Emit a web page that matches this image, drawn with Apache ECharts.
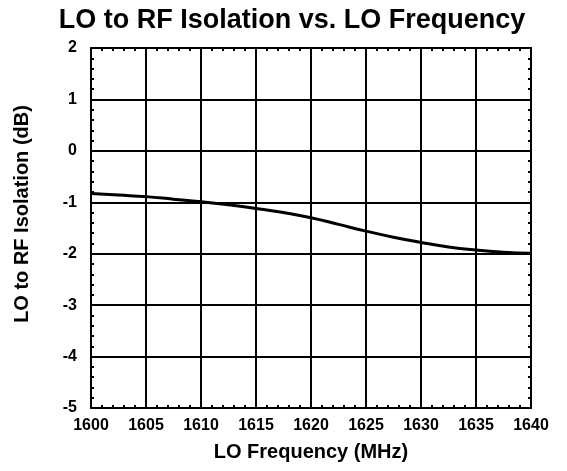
<!DOCTYPE html>
<html>
<head>
<meta charset="utf-8">
<script src="https://cdn.jsdelivr.net/npm/echarts@6/dist/echarts.min.js"></script>
<style>
  html, body { margin: 0; padding: 0; background: #fff; }
  #chart { width: 567px; height: 471px; }
</style>
</head>
<body>
<div id="chart"></div>
<script>
// LO frequency (MHz) and isolation (dB)
const freq = [1600, 1602.5, 1605, 1607.5, 1610, 1612.5, 1615, 1617.5, 1620,
  1622.5, 1625, 1627.5, 1630, 1632.5, 1635, 1637.5, 1640]
const isolation = [-0.83, -0.86, -0.89, -0.94, -0.99, -1.05, -1.12, -1.20, -1.30,
  -1.43, -1.56, -1.68, -1.78, -1.87, -1.93, -1.97, -1.99]

const xTicks = [1600, 1605, 1610, 1615, 1620, 1625, 1630, 1635, 1640]
const yTicks = [-5, -4, -3, -2, -1, 0, 1, 2]

const font = 'Liberation Sans, Arial, sans-serif'
const black = '#000'

const chart = echarts.init(document.getElementById('chart'))

const baseAxis = {
  axisLine: { show: true, onZero: false, lineStyle: { color: black, width: 2 } },
  axisTick: { show: true, inside: true, length: 3, lineStyle: { color: black, width: 2 } },
  minorTick: { show: true, splitNumber: 5, length: 3, lineStyle: { color: black, width: 2 } },
  splitLine: { show: false }
}

const labelStyle = { fontFamily: font, fontSize: 16, fontWeight: 'bold', color: black }
const nameStyle = { fontFamily: font, fontSize: 20, fontWeight: 'bold', color: black }

chart.setOption({
  animation: false,
  title: {
    text: 'LO to RF Isolation vs. LO Frequency',
    left: 287,
    textAlign: 'center',
    top: 2,
    textStyle: { fontFamily: font, fontSize: 27, fontWeight: 'bold', color: black }
  },
  grid: { left: 91, right: 36, top: 48, bottom: 63 },
  xAxis: [
    Object.assign({}, baseAxis, {
      type: 'value',
      min: xTicks[0],
      max: xTicks[xTicks.length - 1],
      interval: 5,
      position: 'bottom',
      name: 'LO Frequency (MHz)',
      nameLocation: 'middle',
      nameGap: 34,
      nameTextStyle: nameStyle,
      axisLabel: Object.assign({ margin: 10, formatter: v => String(v) }, labelStyle),
      splitLine: { show: true, lineStyle: { color: black, width: 2 } }
    }),
    Object.assign({}, baseAxis, {
      type: 'value',
      min: xTicks[0],
      max: xTicks[xTicks.length - 1],
      interval: 5,
      position: 'top',
      axisLabel: { show: false }
    })
  ],
  yAxis: [
    Object.assign({}, baseAxis, {
      type: 'value',
      min: yTicks[0],
      max: yTicks[yTicks.length - 1],
      interval: 1,
      position: 'left',
      name: 'LO to RF Isolation (dB)',
      nameLocation: 'middle',
      nameGap: 59,
      nameTextStyle: Object.assign({ padding: [0, 0, 0, 28] }, nameStyle),
      axisLabel: Object.assign({ margin: 14, formatter: v => String(v) }, labelStyle),
      splitLine: { show: true, lineStyle: { color: black, width: 2 } }
    }),
    Object.assign({}, baseAxis, {
      type: 'value',
      min: yTicks[0],
      max: yTicks[yTicks.length - 1],
      interval: 1,
      position: 'right',
      axisLabel: { show: false }
    })
  ],
  series: [
    {
      type: 'line',
      data: freq.map((f, i) => [f, isolation[i]]),
      smooth: true,
      showSymbol: false,
      lineStyle: { color: black, width: 3 }
    }
  ]
})
</script>
</body>
</html>
